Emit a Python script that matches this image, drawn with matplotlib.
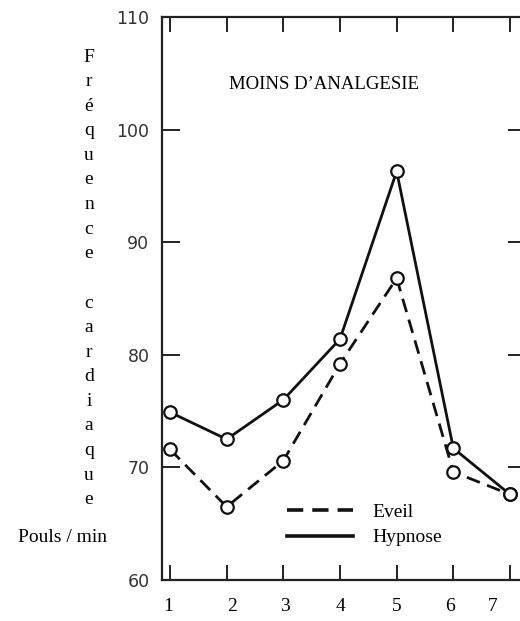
import matplotlib
matplotlib.use("Agg")
import matplotlib.pyplot as plt
from matplotlib.lines import Line2D
from matplotlib.transforms import ScaledTranslation

# data
sessions = [1, 2, 3, 4, 5, 6, 7]
session_labels = ["1", "2", "3", "4", "5", "6", "7"]
eveil = [71.6, 66.5, 70.6, 79.2, 86.8, 69.6, 67.6]
hypnose = [74.9, 72.5, 76.0, 81.4, 96.3, 71.7, 67.6]
y_ticks = [60, 70, 80, 90, 100, 110]

title = "MOINS D\u2019ANALGESIE"
ylabel_text = "Fréquence cardiaque"
unit_text = "Pouls / min"

serif = "Liberation Serif"
ink = "#111111"

W, H = 520, 621
fig = plt.figure(figsize=(W / 100, H / 100), dpi=100)
ax = fig.add_axes([162 / W, 41 / H, 364 / W, 563 / H])

ax.plot(sessions, eveil, color=ink, lw=2.0, dashes=(5, 2.8),
        marker="o", ms=9, mfc="white", mec=ink, mew=1.6, zorder=3)
ax.plot(sessions, hypnose, color=ink, lw=2.0, ls="-",
        marker="o", ms=9, mfc="white", mec=ink, mew=1.6, zorder=4)

ax.set_xlim(1 - 8 / 56.67, 7 + 16 / 56.67)
ax.set_ylim(60, 110)

for sp in ax.spines.values():
    sp.set_linewidth(1.6)
    sp.set_color("#222222")

ax.set_xticks(sessions)
ax.set_xticklabels(session_labels, fontfamily=serif, fontsize=14)
ax.set_yticks(y_ticks)
ax.set_yticklabels([str(v) for v in y_ticks], fontfamily="DejaVu Sans",
                   fontsize=12.5, color="#333333")
ax.tick_params(axis="x", direction="in", length=11, width=1.4,
               top=True, bottom=True, pad=13, colors="#222222",
               labelcolor="black")
ax.tick_params(axis="y", direction="in", length=13, width=1.4,
               left=True, right=True, pad=9, colors="#222222",
               labelcolor="#333333")

# the printed labels don't sit exactly under the ticks
label_shift_px = [-2, 5, 2, 0, 0, -3, -17]
for lab, dx in zip(ax.get_xticklabels(), label_shift_px):
    lab.set_transform(lab.get_transform() + ScaledTranslation(dx / 100, 0, fig.dpi_scale_trans))

# legend
handles = [Line2D([], [], color=ink, lw=2.6, dashes=(4.5, 2.5)),
           Line2D([], [], color=ink, lw=2.6)]
ax.legend(handles, ["Eveil", "Hypnose"], loc="upper left",
          bbox_to_anchor=(287 / W, 1 - 503 / H), bbox_transform=fig.transFigure,
          frameon=False, borderpad=0, borderaxespad=0, handlelength=3.4,
          handletextpad=1.0, labelspacing=0.42,
          prop={"family": serif, "size": 14})

# title inside the plot
fig.text(324 / W, 1 - 89 / H, title, ha="center", va="baseline",
         fontfamily=serif, fontsize=13.5)

# vertical stacked y label
y0 = 61.5
for i, ch in enumerate(ylabel_text):
    if ch == " ":
        continue
    fig.text(89 / W, 1 - (y0 + i * 24.6) / H, ch, ha="center", va="baseline",
             fontfamily=serif, fontsize=14)

fig.text(62 / W, 1 - 542 / H, unit_text, ha="center", va="baseline",
         fontfamily=serif, fontsize=14)

fig.savefig("out.png", dpi=100)
